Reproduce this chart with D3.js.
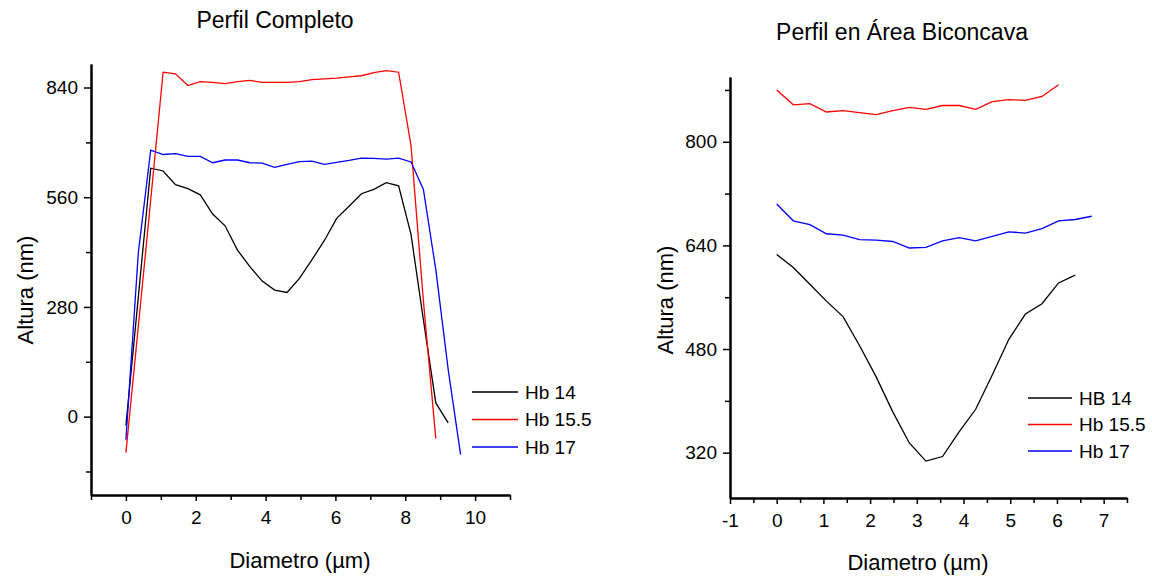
<!DOCTYPE html>
<html>
<head>
<meta charset="utf-8">
<script src="https://cdn.jsdelivr.net/npm/d3@7"></script>
<style>
  html, body { margin: 0; padding: 0; background: #fff; }
  svg { display: block; font-family: "Liberation Sans", Arial, sans-serif; }
</style>
</head>
<body>
<svg id="chart" width="1152" height="578"></svg>
<script>
// x positions (µm) of the profile samples
const xSteps = [0, 0.355, 0.71, 1.065, 1.42, 1.775, 2.13, 2.485, 2.84, 3.195, 3.55, 3.905, 4.26, 4.615,
  4.97, 5.325, 5.68, 6.035, 6.39, 6.745, 7.1, 7.455, 7.81, 8.165, 8.52, 8.875, 9.23, 9.585];

// Perfil Completo
const hb14Full = [-23, 305, 634, 627, 592, 582, 566, 517, 487, 425, 383, 346, 323, 317, 353, 400, 449,
  506, 537, 569, 580, 597, 589, 465, 247, 35, -16];
const hb155Full = [-92, 230, 553, 879, 875, 845, 855, 853, 850, 855, 858, 853, 853, 853, 855, 860, 862,
  864, 867, 870, 878, 883, 879, 692, 295, -56];
const hb17Full = [-59, 418, 680, 669, 671, 664, 664, 648, 655, 655, 648, 647, 636, 644, 651, 652, 644,
  649, 654, 660, 659, 657, 660, 650, 580, 375, 120, -97];

// Perfil en Área Biconcava
const hb14Bic = [626, 606, 580, 554, 530, 485, 437, 383, 335, 307, 314, 352, 387, 440, 495, 534, 550, 582, 594];
const hb155Bic = [880, 857, 859, 846, 848, 845, 842, 848, 853, 850, 856, 856, 850, 862, 865, 864, 870, 888];
const hb17Bic = [704, 678, 672, 658, 656, 649, 648, 646, 636, 637, 647, 652, 647, 654, 661, 659, 666, 678, 680, 685];

const fullXMajor = [0, 2, 4, 6, 8, 10];
const fullXMinor = [-1, 1, 3, 5, 7, 9, 11];
const fullYMajor = [0, 280, 560, 840];
const fullYMinor = [-140, 140, 420, 700];
const bicXMajor = [-1, 0, 1, 2, 3, 4, 5, 6, 7];
const bicXMinor = [-0.5, 0.5, 1.5, 2.5, 3.5, 4.5, 5.5, 6.5, 7.5];
const bicYMajor = [320, 480, 640, 800];
const bicYMinor = [400, 560, 720, 880];

const colors = ['#000000', '#ff0000', '#0000ff'];
const svg = d3.select('#chart');

function drawPanel(cfg) {
  const g = svg.append('g');
  const x = d3.scaleLinear().domain(cfg.xDomain).range([cfg.left, cfg.right]);
  const y = d3.scaleLinear().domain(cfg.yDomain).range([cfg.bottom, cfg.top]);

  // minor ticks first, then major with labels
  g.append('g').attr('transform', `translate(0,${cfg.bottom})`)
    .call(d3.axisBottom(x).tickValues(cfg.xMinor).tickSize(5).tickFormat('').tickSizeOuter(0));
  g.append('g').attr('transform', `translate(${cfg.left},0)`)
    .call(d3.axisLeft(y).tickValues(cfg.yMinor).tickSize(5).tickFormat('').tickSizeOuter(0));
  const xa = g.append('g').attr('transform', `translate(0,${cfg.bottom})`)
    .call(d3.axisBottom(x).tickValues(cfg.xMajor).tickSize(6).tickPadding(10).tickSizeOuter(0).tickFormat(d3.format('d')));
  g.append('g').attr('transform', `translate(${cfg.left},0)`)
    .call(d3.axisLeft(y).tickValues(cfg.yMajor).tickSize(7).tickPadding(6).tickSizeOuter(0).tickFormat(d3.format('d')));
  g.selectAll('.domain').attr('stroke', '#000').attr('stroke-width', 2);
  g.selectAll('.tick line').attr('stroke', '#000').attr('stroke-width', 1.5);
  g.selectAll('.tick text').attr('fill', '#000').attr('font-size', 19)
    .attr('font-family', '"Liberation Sans", Arial, sans-serif');
  xa.selectAll('.tick text').text(d => d < 0 ? '-' + Math.abs(d) : d);

  const line = d3.line().x(d => x(d[0])).y(d => y(d[1]));
  cfg.series.forEach((s, i) => {
    const pts = s.values.map((v, j) => [xSteps[j], v]);
    g.append('path').datum(pts).attr('d', line)
      .attr('fill', 'none').attr('stroke', colors[i]).attr('stroke-width', 1.3);
  });

  // legend
  cfg.series.forEach((s, i) => {
    const ly = cfg.legendY + i * cfg.legendGap;
    g.append('line').attr('x1', cfg.legendX).attr('x2', cfg.legendX + cfg.legendLen)
      .attr('y1', ly).attr('y2', ly).attr('stroke', colors[i]).attr('stroke-width', 1.3);
    g.append('text').attr('x', cfg.legendX + cfg.legendLen + 7).attr('y', ly)
      .attr('dy', '0.35em').attr('font-size', 19).text(s.name);
  });

  g.append('text').attr('x', cfg.titleX).attr('y', cfg.titleY).attr('text-anchor', 'middle')
    .attr('dy', '0.35em').attr('font-size', 23).text(cfg.title);
  g.append('text').attr('x', cfg.xLabelX).attr('y', cfg.xLabelY).attr('text-anchor', 'middle')
    .attr('dy', '0.35em').attr('font-size', 22).text('Diametro (µm)');
  g.append('text').attr('transform', `translate(${cfg.yLabelX},${cfg.yLabelY}) rotate(-90)`)
    .attr('text-anchor', 'middle').attr('dy', '0.35em').attr('font-size', 22).text('Altura (nm)');
}

drawPanel({
  left: 91, right: 510, top: 64, bottom: 495,
  xDomain: [-1, 11], yDomain: [-200, 900],
  xMajor: fullXMajor, xMinor: fullXMinor, yMajor: fullYMajor, yMinor: fullYMinor,
  series: [
    { name: 'Hb 14', values: hb14Full },
    { name: 'Hb 15.5', values: hb155Full },
    { name: 'Hb 17', values: hb17Full }
  ],
  legendX: 472, legendLen: 46, legendY: 392, legendGap: 27.5,
  title: 'Perfil Completo', titleX: 275, titleY: 20,
  xLabelX: 300, xLabelY: 560, yLabelX: 25, yLabelY: 290
});

drawPanel({
  left: 730, right: 1127, top: 77, bottom: 498,
  xDomain: [-1, 7.5], yDomain: [250, 900],
  xMajor: bicXMajor, xMinor: bicXMinor, yMajor: bicYMajor, yMinor: bicYMinor,
  series: [
    { name: 'HB 14', values: hb14Bic },
    { name: 'Hb 15.5', values: hb155Bic },
    { name: 'Hb 17', values: hb17Bic }
  ],
  legendX: 1028, legendLen: 44, legendY: 398, legendGap: 26.5,
  title: 'Perfil en Área Biconcava', titleX: 902, titleY: 32,
  xLabelX: 918, xLabelY: 562, yLabelX: 665, yLabelY: 300
});
</script>
</body>
</html>
